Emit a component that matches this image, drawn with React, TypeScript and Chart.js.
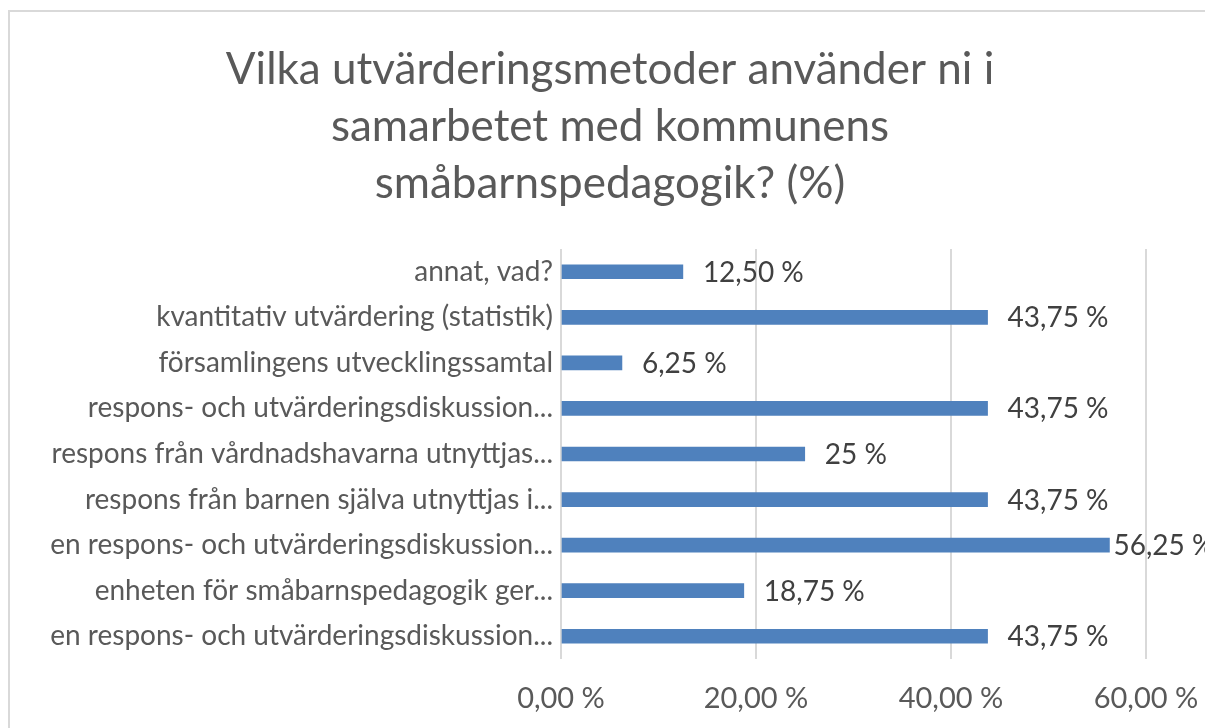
import React, { useEffect, useRef } from "react";
import { Chart, registerables } from "chart.js";

Chart.register(...registerables);

const titleLines = [
  "Vilka utvärderingsmetoder använder ni i",
  "samarbetet med kommunens",
  "småbarnspedagogik? (%)",
];

const categories = [
  "annat, vad?",
  "kvantitativ utvärdering (statistik)",
  "församlingens utvecklingssamtal",
  "respons- och utvärderingsdiskussion...",
  "respons från vårdnadshavarna utnyttjas...",
  "respons från barnen själva utnyttjas i...",
  "en respons- och utvärderingsdiskussion...",
  "enheten för småbarnspedagogik ger...",
  "en respons- och utvärderingsdiskussion...",
];

const values = [12.5, 43.75, 6.25, 43.75, 25, 43.75, 56.25, 18.75, 43.75];

const axisMin = 0;
const axisMax = 60;
const axisStep = 20;

const FONT = "Lato";
const W = 1205;
const H = 728;

function fmtPct(v: number, forceDecimals: boolean) {
  if (!forceDecimals && Number.isInteger(v)) return `${v} %`;
  return v.toFixed(2).replace(".", ",") + " %";
}

const framePlugin = {
  id: "frame",
  beforeDraw(chart: any) {
    const ctx = chart.ctx;
    ctx.save();
    ctx.fillStyle = "#ffffff";
    ctx.fillRect(0, 0, chart.width, chart.height);
    ctx.strokeStyle = "#d9d9d9";
    ctx.lineWidth = 2;
    ctx.beginPath();
    ctx.moveTo(9, chart.height);
    ctx.lineTo(9, 11);
    ctx.lineTo(chart.width, 11);
    ctx.stroke();
    ctx.restore();
  },
};

const titlePlugin = {
  id: "chartTitle",
  afterDraw(chart: any) {
    const ctx = chart.ctx;
    ctx.save();
    ctx.font = `44px ${FONT}`;
    ctx.fillStyle = "#595959";
    ctx.textAlign = "center";
    ctx.textBaseline = "middle";
    titleLines.forEach((line, i) => {
      ctx.fillText(line, 610, 70 + i * 57);
    });
    ctx.restore();
  },
};

const labelPlugin = {
  id: "barLabels",
  afterDatasetsDraw(chart: any) {
    const ctx = chart.ctx;
    const meta = chart.getDatasetMeta(0);
    ctx.save();
    ctx.font = `28px ${FONT}`;
    ctx.fillStyle = "#404040";
    ctx.textAlign = "left";
    ctx.textBaseline = "middle";
    meta.data.forEach((bar: any, i: number) => {
      const text = fmtPct(values[i], false);
      const w = ctx.measureText(text).width;
      let x = bar.x + 20;
      if (x + w > chart.width) x = bar.x + 4;
      ctx.fillText(text, x, bar.y + 1);
    });
    ctx.restore();
  },
};

export default function App() {
  const ref = useRef<HTMLCanvasElement | null>(null);

  useEffect(() => {
    if (!ref.current) return;
    const chart = new Chart(ref.current, {
      type: "bar",
      data: {
        labels: categories,
        datasets: [
          {
            data: values,
            backgroundColor: "#4f81bd",
            borderWidth: 0,
            barThickness: 14,
          },
        ],
      },
      options: {
        indexAxis: "y",
        animation: false,
        responsive: false,
        maintainAspectRatio: false,
        layout: { padding: { left: 0, right: 59, top: 249, bottom: 0 } },
        plugins: {
          legend: { display: false },
          tooltip: { enabled: false },
          title: { display: false },
        },
        scales: {
          x: {
            min: axisMin,
            max: axisMax,
            afterFit(scale: any) {
              scale.height = 69;
              scale.paddingLeft = 0;
              scale.paddingRight = 0;
            },
            ticks: {
              stepSize: axisStep,
              color: "#595959",
              font: { family: FONT, size: 29 },
              padding: 22,
              callback: (v: any) => fmtPct(Number(v), true),
            },
            grid: {
              color: "#d9d9d9",
              lineWidth: 2,
              drawTicks: false,
            },
            border: { display: false },
          },
          y: {
            afterFit(scale: any) {
              scale.width = 561;
              scale.paddingTop = 0;
              scale.paddingBottom = 0;
            },
            ticks: {
              color: "#595959",
              font: { family: FONT, size: 28 },
              padding: 8,
              autoSkip: false,
            },
            grid: { display: false, drawTicks: false },
            border: { display: false },
          },
        },
      },
      plugins: [framePlugin, labelPlugin, titlePlugin],
    });
    return () => chart.destroy();
  }, []);

  return (
    <div style={{ position: "absolute", left: 0, top: 0, width: W, height: H }}>
      <canvas ref={ref} width={W} height={H} style={{ width: W, height: H, display: "block" }} />
    </div>
  );
}
